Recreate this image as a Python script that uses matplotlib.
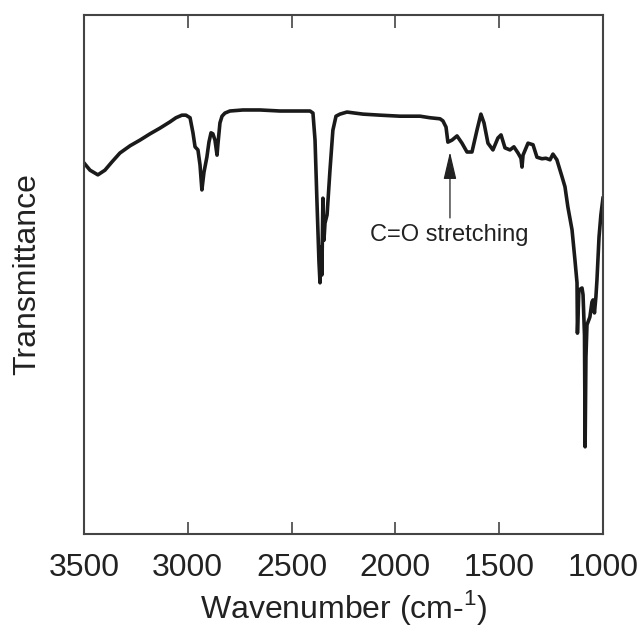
import matplotlib
matplotlib.use('Agg')
import matplotlib.pyplot as plt

plt.rcParams['font.family'] = ['Liberation Sans', 'DejaVu Sans']

# FTIR spectrum (wavenumber cm-1, transmittance a.u.)
wavenumber = [3500, 3471, 3433, 3399, 3365, 3327, 3278, 3230, 3182, 3134,
              3086, 3057, 3028, 3009, 2989, 2975, 2965, 2951, 2941, 2932,
              2922, 2908, 2898, 2888, 2879, 2869, 2859, 2855, 2845, 2835,
              2821, 2797, 2734, 2652, 2556, 2460, 2411, 2397, 2387, 2378,
              2368, 2363, 2358, 2354, 2349, 2344, 2339, 2329, 2315, 2301,
              2286, 2267, 2233, 2195, 2156, 2074, 1978, 1881, 1833, 1785,
              1771, 1756, 1747, 1727, 1703, 1679, 1655, 1631, 1607, 1588,
              1573, 1554, 1530, 1506, 1491, 1472, 1448, 1429, 1409, 1395,
              1390, 1385, 1361, 1337, 1318, 1294, 1275, 1255, 1241, 1222,
              1197, 1183, 1169, 1149, 1135, 1125, 1123, 1116, 1101, 1096,
              1089, 1086, 1082, 1077, 1063, 1053, 1048, 1041, 1034, 1029,
              1019, 1010, 1000]
transmittance = [71.5, 70.1, 69.2, 70.1, 71.7, 73.4, 74.8, 75.9, 77.1, 78.2,
                 79.4, 80.2, 80.7, 80.7, 80.2, 77.3, 74.6, 74.0, 71.1, 66.3,
                 69.7, 72.6, 75.5, 77.3, 77.1, 75.9, 73.0, 75.0, 79.2, 80.5,
                 81.1, 81.5, 81.7, 81.7, 81.5, 81.5, 81.5, 81.1, 75.9, 64.4,
                 52.4, 48.4, 55.3, 49.9, 64.7, 56.6, 59.9, 61.5, 70.1, 77.8,
                 80.5, 80.9, 81.3, 81.1, 80.9, 80.7, 80.5, 80.5, 80.2, 80.0,
                 79.6, 78.4, 75.5, 75.9, 76.7, 75.3, 73.6, 73.6, 77.8, 80.9,
                 79.2, 75.3, 74.0, 76.3, 76.9, 74.4, 74.0, 74.6, 73.4, 72.4,
                 70.7, 73.0, 75.3, 75.0, 72.6, 72.3, 72.4, 72.1, 73.2, 72.1,
                 68.8, 66.9, 63.0, 58.6, 52.8, 48.4, 38.7, 47.0, 47.4, 46.1,
                 38.3, 16.8, 34.1, 40.3, 41.8, 44.7, 45.1, 42.6, 45.7, 48.9,
                 57.2, 61.5, 64.7]

xticks = [3500, 3000, 2500, 2000, 1500, 1000]

# annotation for the carbonyl band
co_label = 'C=O stretching'
co_wn = 1737
co_tip = 73.6
co_tail = 60.9
co_text_wn = 2122
co_text_t = 57.6

fig = plt.figure(figsize=(6.42, 6.30), dpi=100)
ax = fig.add_axes([0.1308, 0.1524, 0.8084, 0.8238])

ax.plot(wavenumber, transmittance, color='#1a1a1a', lw=2.6, solid_joinstyle='round')

ax.set_xlim(3500, 1000)
ax.set_ylim(0, 100)
ax.set_xticks(xticks)
ax.set_xticklabels([str(t) for t in xticks])
ax.set_yticks([])
ax.tick_params(axis='x', direction='in', length=9, width=1.2, color='#444444',
               top=True, labeltop=False, labelsize=23, labelcolor='#222222', pad=14)
for s in ax.spines.values():
    s.set_color('#444444')
    s.set_linewidth(1.5)

ax.set_xlabel('Wavenumber (cm-$^{\\mathregular{1}}$)', fontsize=23, color='#222222', labelpad=3)
ax.set_ylabel('Transmittance', fontsize=23, color='#222222', labelpad=30)

ax.annotate('', xy=(co_wn, co_tip), xytext=(co_wn, co_tail),
            arrowprops=dict(arrowstyle='-|>,head_length=0.85,head_width=0.2',
                            mutation_scale=20, color='#222222', lw=0.9,
                            shrinkA=0, shrinkB=0))
ax.text(co_text_wn, co_text_t, co_label, fontsize=17, color='#222222',
        ha='left', va='center')

fig.savefig('out.png', dpi=100)
